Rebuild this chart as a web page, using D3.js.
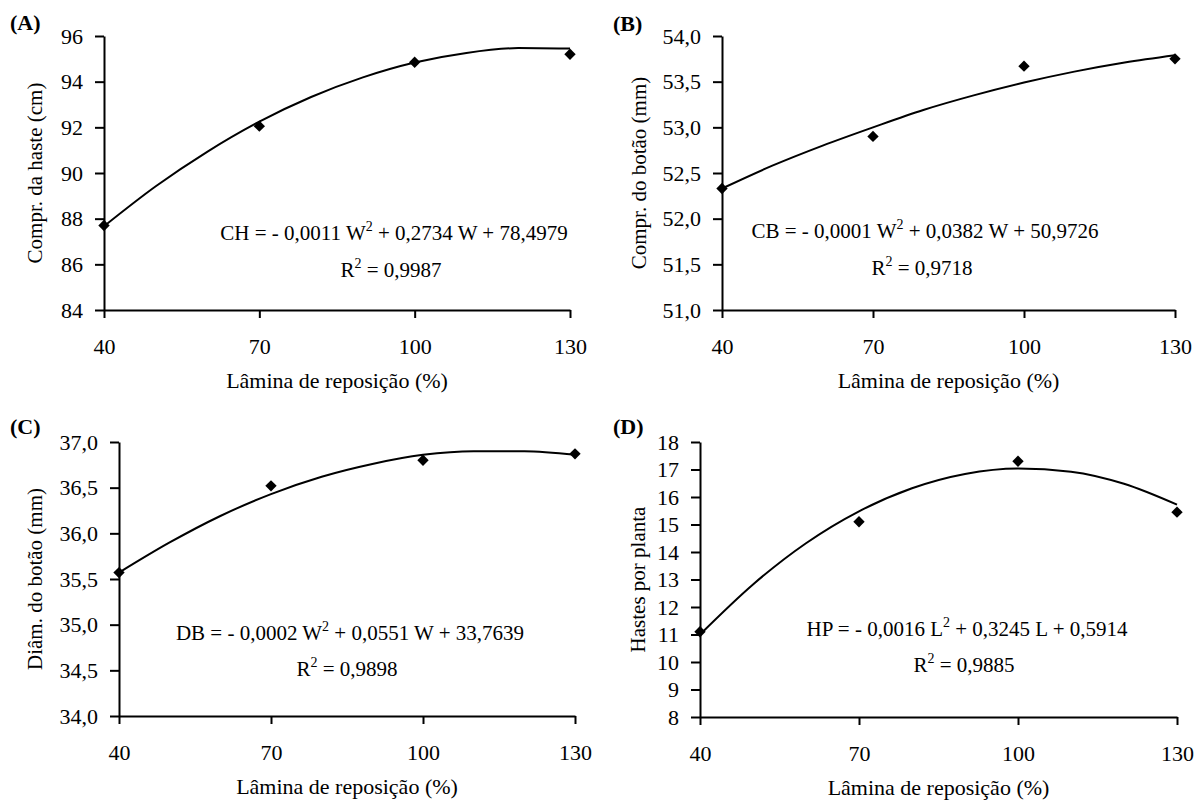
<!DOCTYPE html>
<html>
<head>
<meta charset="UTF-8">
<script src="https://cdn.jsdelivr.net/npm/d3@7"></script>
<style>
  body { margin: 0; background: #fff; }
  text { font-family: "Liberation Serif", "Times New Roman", serif; fill: #000; }
</style>
</head>
<body>
<svg width="1202" height="807"></svg>
<script>
// dados
var lamina = [40, 70, 100, 130];
var xTicks = [40, 70, 100, 130];

var comprHaste = [87.7, 92.05, 94.85, 95.2];
var comprBotao = [52.33, 52.9, 53.67, 53.75];
var diamBotao = [35.57, 36.52, 36.8, 36.87];
var hastesPlanta = [11.1, 15.1, 17.3, 15.45];

// linha de tendencia
var curveX = [40, 50, 60, 70, 80, 90, 100, 110, 120, 130];
var curveA = [87.67, 89.42, 90.94, 92.25, 93.33, 94.19, 94.84, 95.26, 95.47, 95.45];
var curveB = [52.33, 52.58, 52.80, 53.00, 53.19, 53.35, 53.49, 53.61, 53.71, 53.79];
var curveC = [35.57, 35.90, 36.19, 36.43, 36.62, 36.76, 36.86, 36.90, 36.90, 36.86];
var curveD = [11.0, 12.82, 14.32, 15.48, 16.32, 16.84, 17.04, 16.92, 16.48, 15.72];

var yTicksA = [84, 86, 88, 90, 92, 94, 96];
var yTicksB = [51, 51.5, 52, 52.5, 53, 53.5, 54];
var yTicksC = [34, 34.5, 35, 35.5, 36, 36.5, 37];
var yTicksD = [8, 9, 10, 11, 12, 13, 14, 15, 16, 17, 18];

var svg = d3.select("svg");
var br = d3.formatLocale({decimal: ",", thousands: ".", grouping: [3], currency: ["", ""]});

var panels = [
  {tag: "(A)", tx: 10, ty: 30, x0: 104, x1: 570, y0: 36, y1: 310, ticks: yTicksA, fmt: br.format("d"),
   pts: comprHaste, curve: curveA, ytitle: "Compr. da haste (cm)", ytx: 42,
   eq: ["CH = - 0,0011 W", "2", " + 0,2734 W + 78,4979"], r2: "0,9987", eqx: 394, eqy: 240, r2y: 277},
  {tag: "(B)", tx: 613, ty: 31, x0: 722, x1: 1175, y0: 36, y1: 310, ticks: yTicksB, fmt: br.format(".1f"),
   pts: comprBotao, curve: curveB, ytitle: "Compr. do botão (mm)", ytx: 646,
   eq: ["CB = - 0,0001 W", "2", " + 0,0382 W + 50,9726"], r2: "0,9718", eqx: 925, eqy: 238, r2y: 275},
  {tag: "(C)", tx: 10, ty: 434, x0: 119, x1: 575, y0: 442, y1: 716, ticks: yTicksC, fmt: br.format(".1f"),
   pts: diamBotao, curve: curveC, ytitle: "Diâm. do botão (mm)", ytx: 42,
   eq: ["DB = - 0,0002 W", "2", " + 0,0551 W + 33,7639"], r2: "0,9898", eqx: 350, eqy: 640, r2y: 676},
  {tag: "(D)", tx: 613, ty: 434, x0: 700, x1: 1177, y0: 442, y1: 717, ticks: yTicksD, fmt: br.format("d"),
   pts: hastesPlanta, curve: curveD, ytitle: "Hastes por planta", ytx: 645,
   eq: ["HP = - 0,0016 L", "2", " + 0,3245 L + 0,5914"], r2: "0,9885", eqx: 967, eqy: 636, r2y: 672}
];

panels.forEach(function(p) {
  var x = d3.scaleLinear().domain([40, 130]).range([p.x0, p.x1]);
  var y = d3.scaleLinear().domain(d3.extent(p.ticks)).range([p.y1, p.y0]);
  var g = svg.append("g");

  // eixos
  var ax = g.append("g").attr("transform", "translate(0," + p.y1 + ")")
    .call(d3.axisBottom(x).tickValues(xTicks).tickSize(8).tickSizeOuter(0).tickPadding(20));
  var ay = g.append("g").attr("transform", "translate(" + p.x0 + ",0)")
    .call(d3.axisLeft(y).tickValues(p.ticks).tickFormat(p.fmt).tickSize(9).tickSizeOuter(0).tickPadding(12));
  [ax, ay].forEach(function(a) {
    a.select(".domain").attr("stroke-width", 2);
    a.selectAll(".tick line").attr("stroke-width", 2);
    a.selectAll("text").style("font-size", "22px").attr("fill", "#000");
  });

  // curva
  var line = d3.line()
    .x(function(d, i) { return x(curveX[i]); })
    .y(function(d) { return y(d); })
    .curve(d3.curveMonotoneX);
  g.append("path").datum(p.curve)
    .attr("d", line).attr("fill", "none").attr("stroke", "#000").attr("stroke-width", 2);

  // pontos (losango)
  var sym = d3.symbol().type(d3.symbolSquare).size(64);
  g.selectAll(".pt").data(p.pts).enter().append("path")
    .attr("d", sym)
    .attr("transform", function(d, i) { return "translate(" + x(lamina[i]) + "," + y(d) + ") rotate(45)"; })
    .attr("fill", "#000");

  // titulos
  g.append("text").attr("x", (p.x0 + p.x1) / 2).attr("y", p.y1 + 78)
    .attr("text-anchor", "middle").style("font-size", "22px")
    .text("Lâmina de reposição (%)");
  g.append("text")
    .attr("transform", "translate(" + p.ytx + "," + (p.y0 + p.y1) / 2 + ") rotate(-90)")
    .attr("text-anchor", "middle").style("font-size", "21px")
    .text(p.ytitle);
  g.append("text").attr("x", p.tx).attr("y", p.ty)
    .style("font-size", "22px").style("font-weight", "bold")
    .text(p.tag);

  // equacao
  var eq = g.append("text").attr("x", p.eqx).attr("y", p.eqy)
    .attr("text-anchor", "middle").style("font-size", "21px");
  eq.append("tspan").text(p.eq[0]);
  eq.append("tspan").attr("dy", -9).style("font-size", "14px").text(p.eq[1]);
  eq.append("tspan").attr("dy", 9).text(p.eq[2]);
  var r = g.append("text").attr("x", p.eqx - 3).attr("y", p.r2y)
    .attr("text-anchor", "middle").style("font-size", "21px");
  r.append("tspan").text("R");
  r.append("tspan").attr("dy", -9).style("font-size", "14px").text("2");
  r.append("tspan").attr("dy", 9).text(" = " + p.r2);
});
</script>
</body>
</html>
